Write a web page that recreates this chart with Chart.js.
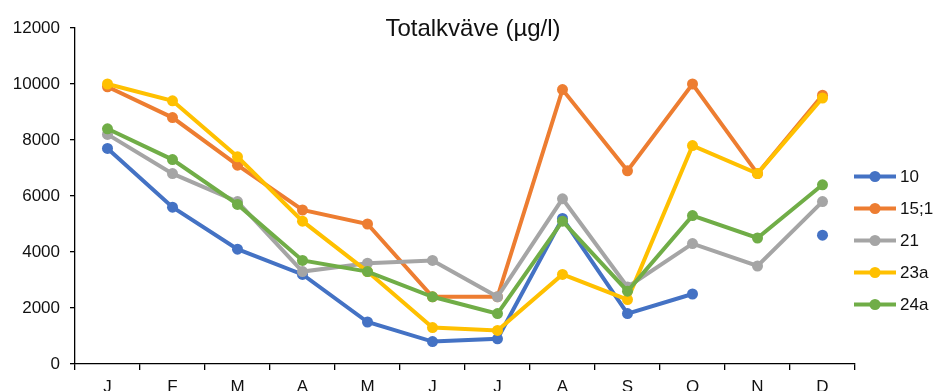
<!DOCTYPE html>
<html>
<head>
<meta charset="utf-8">
<script src="https://cdn.jsdelivr.net/npm/chart.js@4/dist/chart.umd.min.js"></script>
<style>
  html, body { margin: 0; padding: 0; background: #fff; }
  #wrap { width: 934px; height: 391px; position: relative; }
</style>
</head>
<body>
<div id="wrap"><canvas id="c"></canvas></div>
<script>
// Monthly total nitrogen (µg/l) per station
const months = ['J', 'F', 'M', 'A', 'M', 'J', 'J', 'A', 'S', 'O', 'N', 'D'];
const station10  = [7700, 5600, 4100, 3200, 1500, 800, 900, 5200, 1800, 2500, null, 4600];
const station15  = [9900, 8800, 7100, 5500, 5000, 2400, 2400, 9800, 6900, 10000, 6800, 9600];
const station21  = [8200, 6800, 5800, 3300, 3600, 3700, 2400, 5900, 2750, 4300, 3500, 5800];
const station23a = [10000, 9400, 7400, 5100, 3300, 1300, 1200, 3200, 2300, 7800, 6800, 9500];
const station24a = [8400, 7300, 5700, 3700, 3300, 2400, 1800, 5100, 2600, 5300, 4500, 6400];
const yTicks = [0, 2000, 4000, 6000, 8000, 10000, 12000];
const titleText = 'Totalkväve (µg/l)';

const FONT = '"Liberation Sans", Arial, sans-serif';

function series(label, data, color, order) {
  return {
    label, data,
    borderColor: color, backgroundColor: color,
    pointBackgroundColor: color, pointBorderColor: color,
    borderWidth: 4, pointRadius: 5.5, pointHoverRadius: 5.5,
    pointBorderWidth: 0, tension: 0, spanGaps: false, order
  };
}

// Title and legend drawn onto the canvas directly
const decorations = {
  id: 'decorations',
  afterDraw(chart) {
    const ctx = chart.ctx;
    ctx.save();
    ctx.fillStyle = '#111';
    ctx.font = '24px ' + FONT;
    ctx.textAlign = 'center';
    ctx.textBaseline = 'alphabetic';
    ctx.fillText(titleText, 473, 35.5);

    const x0 = 854, x1 = 896, tx = 900;
    chart.data.datasets.forEach((ds, i) => {
      const y = 176.5 + i * 32;
      ctx.strokeStyle = ds.borderColor;
      ctx.lineWidth = 4;
      ctx.beginPath();
      ctx.moveTo(x0, y);
      ctx.lineTo(x1, y);
      ctx.stroke();
      ctx.fillStyle = ds.borderColor;
      ctx.beginPath();
      ctx.arc((x0 + x1) / 2, y, 5.5, 0, Math.PI * 2);
      ctx.fill();
      ctx.fillStyle = '#111';
      ctx.font = '17px ' + FONT;
      ctx.textAlign = 'left';
      ctx.textBaseline = 'middle';
      ctx.fillText(ds.label, tx, y + 0.5);
    });
    ctx.restore();
  }
};

new Chart(document.getElementById('c'), {
  type: 'line',
  data: {
    labels: months,
    datasets: [
      series('10', station10, '#4472C4', 5),
      series('15;1', station15, '#ED7D31', 4),
      series('21', station21, '#A5A5A5', 3),
      series('23a', station23a, '#FFC000', 2),
      series('24a', station24a, '#70AD47', 1)
    ]
  },
  options: {
    responsive: true,
    maintainAspectRatio: false,
    animation: false,
    events: [],
    layout: { padding: { left: 0, right: 79, top: 28, bottom: 0 } },
    plugins: {
      legend: { display: false },
      title: { display: false },
      tooltip: { enabled: false }
    },
    scales: {
      x: {
        type: 'category',
        offset: true,
        grid: {
          offset: true, drawOnChartArea: false, drawTicks: true,
          tickLength: 6, color: '#000', lineWidth: 1.3
        },
        border: { display: true, color: '#000', width: 1.3 },
        ticks: {
          color: '#111', padding: 7, maxRotation: 0, autoSkip: false,
          font: { family: FONT, size: 17 }
        },
        afterFit(scale) { scale.height = 27; }
      },
      y: {
        min: 0, max: 12000,
        afterBuildTicks(scale) { scale.ticks = yTicks.map(v => ({ value: v })); },
        grid: {
          drawOnChartArea: false, drawTicks: true,
          tickLength: 5, color: '#000', lineWidth: 1.3
        },
        border: { display: true, color: '#000', width: 1.3 },
        ticks: {
          color: '#111', padding: 10,
          font: { family: FONT, size: 17 },
          callback: v => String(v)
        },
        afterFit(scale) { scale.width = 75; }
      }
    }
  },
  plugins: [decorations]
});
</script>
</body>
</html>
